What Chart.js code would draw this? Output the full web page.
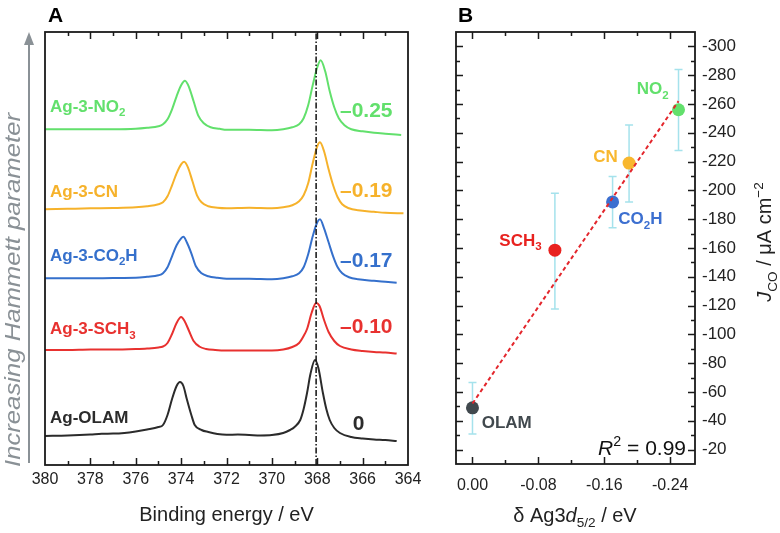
<!DOCTYPE html>
<html>
<head>
<meta charset="utf-8">
<script src="https://cdn.jsdelivr.net/npm/chart.js@4.4.1/dist/chart.umd.min.js"></script>
<style>
  body { margin: 0; background: #fff; }
  #wrap { position: relative; width: 780px; height: 533px; }
  #wrap canvas { position: absolute; left: 0; top: 0; }
</style>
</head>
<body>
<div id="wrap">
  <canvas id="chartA" width="780" height="533"></canvas>
  <canvas id="chartB" width="780" height="533"></canvas>
</div>
<script>
// ---- panel A: Ag 3d XPS spectra (binding energy eV, intensity a.u. above own baseline)
const specOLAM = [[380,0],[379,0.5],[378,1.5],[377.5,2.3],[377,2.4],[376.5,3],[376,4.5],[375.5,6.5],[375,9],[374.8,11],[374.6,21],[374.4,37],[374.2,50],[374.05,54],[373.9,50],[373.75,37],[373.55,21],[373.4,11],[373.1,6],[372.8,4],[372.4,2],[372,1.2],[371.5,1.4],[371,1],[370.5,0.6],[370,1],[369.5,3],[369.2,6],[369,9],[368.75,16],[368.6,27],[368.45,43],[368.3,62],[368.1,76],[367.95,68],[367.75,43],[367.6,27],[367.45,16],[367.25,8],[367,3],[366.5,-1],[366,-2.5],[365.5,-3.5],[365,-4],[364.5,-5]];
const specSCH3 = [[380,0],[379,0],[378,0.5],[377,0.5],[376,1],[375.5,1.5],[375,2.5],[374.8,3.5],[374.6,7],[374.4,16],[374.2,27],[374,33],[373.85,29],[373.65,19],[373.45,9],[373.2,3.5],[372.9,1],[372.5,0],[372,-0.5],[371,-0.5],[370,-0.5],[369.5,0.5],[369.1,3],[368.8,7],[368.6,14],[368.45,21],[368.25,37],[368.05,47],[367.9,44],[367.7,30],[367.5,18],[367.25,9],[367,4],[366.5,0.5],[366,-1],[365.5,-2],[365,-2.5],[364.5,-3.5]];
const specCO2H = [[380,0],[379,0],[378,0],[377,0.3],[376,0.5],[375.5,1.5],[375,3],[374.8,5],[374.6,11],[374.4,22],[374.2,33],[374,40],[373.9,41.5],[373.75,36],[373.55,25],[373.35,12],[373.1,5],[372.8,2],[372.4,0.5],[372,-0.5],[371,-0.5],[370,-1],[369.5,0],[369.1,2],[368.8,5],[368.6,11],[368.4,24],[368.2,42],[368,56],[367.88,59],[367.7,50],[367.5,36],[367.3,22],[367.1,11],[366.9,5],[366.6,1],[366.2,-1],[365.5,-2.5],[365,-3.5],[364.5,-4.5]];
const specCN = [[380,0],[379,0.5],[378,1],[377,1.3],[376,2],[375.5,3],[375,5],[374.8,7],[374.6,13],[374.4,24],[374.2,36],[374,45],[373.87,47.5],[373.7,42],[373.5,28],[373.3,14],[373.1,7],[372.8,3],[372.4,1.5],[372,1],[371,1.5],[370,1],[369.5,2],[369.1,4],[368.8,8],[368.6,14],[368.4,26],[368.2,46],[368,63],[367.88,67],[367.7,58],[367.5,40],[367.3,24],[367.1,12],[366.9,5],[366.6,1],[366.2,-1],[365.5,-2.5],[365,-3.5],[364.2,-4]];
const specNO2 = [[380,0],[379,0],[378,0],[377,0],[376,0.5],[375.5,1.5],[375,3],[374.8,5],[374.6,10],[374.4,20],[374.2,33],[374,44],[373.83,48.5],[373.65,42],[373.45,28],[373.25,14],[373,6],[372.7,2],[372.3,0.5],[372,-0.5],[371,-0.5],[370,-1],[369.5,0],[369.1,2],[368.8,5],[368.6,11],[368.4,24],[368.2,44],[368,62],[367.85,69],[367.65,58],[367.45,38],[367.25,22],[367.05,11],[366.8,4],[366.5,0],[366,-2],[365.5,-3.5],[365,-4.5],[364.3,-5.7]];

const sampleNames = ['Ag-OLAM', 'Ag-3-SCH3', 'Ag-3-CO2H', 'Ag-3-CN', 'Ag-3-NO2'];
const sampleShift = ['0', '\u20130.10', '\u20130.17', '\u20130.19', '\u20130.25'];
const stackOffset = [29, 115, 186.7, 255.7, 335.7];
const refLineEnergy = 368.05;
const energyTicks = [380, 378, 376, 374, 372, 370, 368, 366, 364];

// ---- panel B: J_CO vs Ag3d5/2 shift
const ligands = ['OLAM', 'SCH3', 'CO2H', 'CN', 'NO2'];
const deltaAg = [0, -0.10, -0.17, -0.19, -0.25];
const jco = [-49, -158.5, -192, -219, -256];
const jcoErrTop = [-66.6, -198, -209.7, -245.5, -284];
const jcoErrBottom = [-30.8, -117.6, -174, -192, -227.7];
const fitX = [0, -0.25];
const fitY = [-52, -262];
const rSquared = '0.99';
const deltaTicks = [0, -0.08, -0.16, -0.24];
const jcoTicks = [-300, -280, -260, -240, -220, -200, -180, -160, -140, -120, -100, -80, -60, -40, -20];

const colors = ['#2b2b2b', '#e8312f', '#3570cc', '#f6b22b', '#62e06c'];
const dotColors = ['#41494e', '#e8221f', '#3c6fd0', '#f8b72e', '#62e06c'];
const FONT = '"Liberation Sans", Arial, Helvetica, sans-serif';

function richText(ctx, runs, x, y, size, align, color, weight) {
    const fontFor = (r) => `${r.italic ? 'italic ' : ''}${weight || 'normal'} ${(r.sub || r.sup) ? size * 0.68 : size}px ${FONT}`;
    let total = 0;
    runs.forEach((r) => { ctx.font = fontFor(r); r.w = ctx.measureText(r.t).width; total += r.w; });
    let cx = align === 'center' ? x - total / 2 : align === 'right' ? x - total : x;
    ctx.fillStyle = color;
    ctx.textAlign = 'left';
    ctx.textBaseline = 'alphabetic';
    runs.forEach((r) => {
        ctx.font = fontFor(r);
        const dy = r.sub ? size * 0.28 : r.sup ? -size * 0.42 : 0;
        ctx.fillText(r.t, cx, y + dy);
        cx += r.w;
    });
}

// "Ag-3-NO2" -> digits after a letter become subscripts
function chemRuns(name) {
    const runs = [];
    const parts = name.split(/(\d)/);
    parts.forEach((part, i) => {
        if (!part) return;
        const prev = parts[i - 1] || '-';
        runs.push({ t: part, sub: /\d/.test(part) && !/-$/.test(prev) });
    });
    return runs;
}

function frameAndTicks(chart, xTicks, yTicks) {
    const { ctx, chartArea: a } = chart;
    const xs = chart.scales.x, ys = chart.scales.y;
    ctx.save();
    ctx.strokeStyle = '#1a1a1a';
    ctx.lineWidth = 1.5;
    ctx.beginPath();
    xTicks.forEach(([v, major]) => {
        const px = Math.round(xs.getPixelForValue(v)) + 0.5;
        const len = major ? 7 : 4;
        ctx.moveTo(px, a.bottom); ctx.lineTo(px, a.bottom - len);
        ctx.moveTo(px, a.top); ctx.lineTo(px, a.top + len);
    });
    yTicks.forEach(([v, major]) => {
        const py = Math.round(ys.getPixelForValue(v)) + 0.5;
        const len = major ? 7 : 4;
        ctx.moveTo(a.left, py); ctx.lineTo(a.left + len, py);
        ctx.moveTo(a.right, py); ctx.lineTo(a.right - len, py);
    });
    ctx.stroke();
    ctx.lineWidth = 1.8;
    ctx.strokeRect(a.left, a.top, a.right - a.left, a.bottom - a.top);
    ctx.restore();
}

// ---------------- chart A
const spectra = [specOLAM, specSCH3, specCO2H, specCN, specNO2];
const datasetsA = [{
    label: 'ref',
    data: [{ x: refLineEnergy, y: 0 }, { x: refLineEnergy, y: 433 }],
    borderColor: '#111',
    borderWidth: 1.5,
    borderDash: [6, 2, 1.5, 2],
    pointRadius: 0
}];
spectra.forEach((spec, i) => {
    datasetsA.push({
        label: sampleNames[i],
        data: spec.map((p) => ({ x: p[0], y: p[1] + stackOffset[i] })),
        borderColor: colors[i],
        borderWidth: 2,
        pointRadius: 0,
        cubicInterpolationMode: 'monotone'
    });
});

const labelsA = {
    id: 'labelsA',
    afterDraw(chart) {
        const { ctx } = chart;
        const aTicks = [];
        for (let v = 365; v <= 379; v++) aTicks.push([v, v % 2 === 0]);
        frameAndTicks(chart, aTicks, []);
        ctx.save();
        const nameBase = [423.3, 334, 260.5, 196.7, 111.7];
        const shiftBase = [430, 332.7, 267, 196.7, 116.7];
        sampleNames.forEach((n, i) => {
            richText(ctx, chemRuns(n), 50, nameBase[i], 17, 'left', colors[i], 'bold');
            if (i === 0) richText(ctx, [{ t: sampleShift[i] }], 358.5, shiftBase[i], 21, 'center', colors[i], 'bold');
            else richText(ctx, [{ t: sampleShift[i] }], 340, shiftBase[i], 21, 'left', colors[i], 'bold');
        });
        richText(ctx, [{ t: 'A' }], 48, 21.7, 21, 'left', '#000', 'bold');
        // side arrow
        ctx.strokeStyle = '#8a9196';
        ctx.fillStyle = '#8a9196';
        ctx.lineWidth = 2;
        ctx.beginPath();
        ctx.moveTo(29, 463); ctx.lineTo(29, 42);
        ctx.stroke();
        ctx.beginPath();
        ctx.moveTo(29, 32); ctx.lineTo(24, 45); ctx.lineTo(34, 45); ctx.closePath();
        ctx.fill();
        ctx.translate(20, 290);
        ctx.rotate(-Math.PI / 2);
        ctx.font = `italic 22px ${FONT}`;
        const w = ctx.measureText('Increasing Hammett parameter').width;
        ctx.scale(354 / w, 1);
        ctx.textAlign = 'center';
        ctx.fillText('Increasing Hammett parameter', 0, 0);
        ctx.restore();
    }
};

new Chart(document.getElementById('chartA'), {
    type: 'line',
    data: { datasets: datasetsA },
    options: {
        responsive: false,
        animation: false,
        events: [],
        layout: { padding: { left: 45, top: 32, right: 372, bottom: 0 } },
        plugins: { legend: { display: false }, tooltip: { enabled: false } },
        scales: {
            x: {
                type: 'linear',
                min: 364,
                max: 380,
                reverse: true,
                afterFit: (s) => { s.height = 68; },
                afterBuildTicks: (s) => { s.ticks = energyTicks.map((v) => ({ value: v })); },
                grid: { display: false, drawTicks: false },
                border: { display: false },
                ticks: {
                    padding: 5,
                    color: '#222',
                    font: { family: FONT, size: 16 },
                    callback: (v) => String(v)
                },
                title: {
                    display: true,
                    text: 'Binding energy / eV',
                    color: '#222',
                    font: { family: FONT, size: 20 },
                    padding: { top: 0, bottom: 6 }
                }
            },
            y: { display: false, min: 0, max: 433 }
        }
    },
    plugins: [labelsA]
});

// ---------------- chart B
const errorBars = {
    id: 'errorBars',
    beforeDatasetsDraw(chart) {
        const { ctx } = chart;
        const xs = chart.scales.x, ys = chart.scales.y;
        ctx.save();
        ctx.strokeStyle = '#a5e2ec';
        ctx.lineWidth = 1.5;
        ctx.beginPath();
        deltaAg.forEach((d, i) => {
            const px = xs.getPixelForValue(d);
            const t = ys.getPixelForValue(jcoErrTop[i]);
            const b = ys.getPixelForValue(jcoErrBottom[i]);
            ctx.moveTo(px, t); ctx.lineTo(px, b);
            ctx.moveTo(px - 4, t); ctx.lineTo(px + 4, t);
            ctx.moveTo(px - 4, b); ctx.lineTo(px + 4, b);
        });
        ctx.stroke();
        ctx.restore();
    }
};

const labelsB = {
    id: 'labelsB',
    afterDraw(chart) {
        const { ctx } = chart;
        const xT = [], yT = [];
        for (let k = 0; k <= 6; k++) xT.push([-0.04 * k, k % 2 === 0]);
        for (let v = -300; v <= -20; v += 10) yT.push([v, v % 20 === 0]);
        frameAndTicks(chart, xT, yT);
        ctx.save();
        const pos = [[481.7, 428.3], [499.3, 245.7], [618.3, 224], [593.3, 161.7], [636.7, 94]];
        ligands.forEach((l, i) => {
            const runs = l.split(/(\d)/).filter((s) => s).map((s) => ({ t: s, sub: /\d/.test(s) }));
            richText(ctx, runs, pos[i][0], pos[i][1], 17, 'left', dotColors[i], 'bold');
        });
        richText(ctx, [{ t: 'R', italic: true }, { t: '2', sup: true }, { t: ' = ' + rSquared }], 686, 455, 21, 'right', '#111');
        richText(ctx, [{ t: 'B' }], 458, 21.7, 21, 'left', '#000', 'bold');
        richText(ctx, [{ t: '\u03b4 Ag3' }, { t: 'd', italic: true }, { t: '5/2', sub: true }, { t: ' / eV' }], 575, 521.5, 20, 'center', '#222');
        ctx.translate(771, 242);
        ctx.rotate(-Math.PI / 2);
        richText(ctx, [{ t: 'J', italic: true }, { t: 'CO', sub: true }, { t: ' / \u03bcA cm' }, { t: '\u22122', sup: true }], 0, 0, 20, 'center', '#222');
        ctx.restore();
    }
};

new Chart(document.getElementById('chartB'), {
    type: 'scatter',
    data: {
        datasets: [{
            type: 'line',
            label: 'fit',
            data: fitX.map((x, i) => ({ x, y: fitY[i] })),
            borderColor: '#e3262c',
            borderWidth: 2,
            borderDash: [4, 3],
            pointRadius: 0,
            order: 0
        }, {
            label: 'J_CO',
            data: deltaAg.map((x, i) => ({ x, y: jco[i] })),
            backgroundColor: dotColors,
            borderWidth: 0,
            pointRadius: 6.5,
            order: 1
        }]
    },
    options: {
        responsive: false,
        animation: false,
        events: [],
        layout: { padding: { left: 456, top: 32, right: 0, bottom: 0 } },
        plugins: { legend: { display: false }, tooltip: { enabled: false } },
        scales: {
            x: {
                type: 'linear',
                min: -0.27,
                max: 0.02,
                reverse: true,
                afterFit: (s) => { s.height = 69; },
                afterBuildTicks: (s) => { s.ticks = deltaTicks.map((v) => ({ value: v })); },
                grid: { display: false, drawTicks: false },
                border: { display: false },
                ticks: {
                    padding: 12,
                    color: '#222',
                    font: { family: FONT, size: 16 },
                    callback: (v) => v.toFixed(2)
                }
            },
            y: {
                type: 'linear',
                position: 'right',
                min: -310,
                max: -10,
                reverse: true,
                afterFit: (s) => { s.width = 85; },
                afterBuildTicks: (s) => { s.ticks = jcoTicks.map((v) => ({ value: v })); },
                grid: { display: false, drawTicks: false },
                border: { display: false },
                ticks: {
                    padding: 7,
                    color: '#222',
                    font: { family: FONT, size: 17 },
                    callback: (v) => String(v)
                }
            }
        }
    },
    plugins: [errorBars, labelsB]
});
</script>
</body>
</html>
